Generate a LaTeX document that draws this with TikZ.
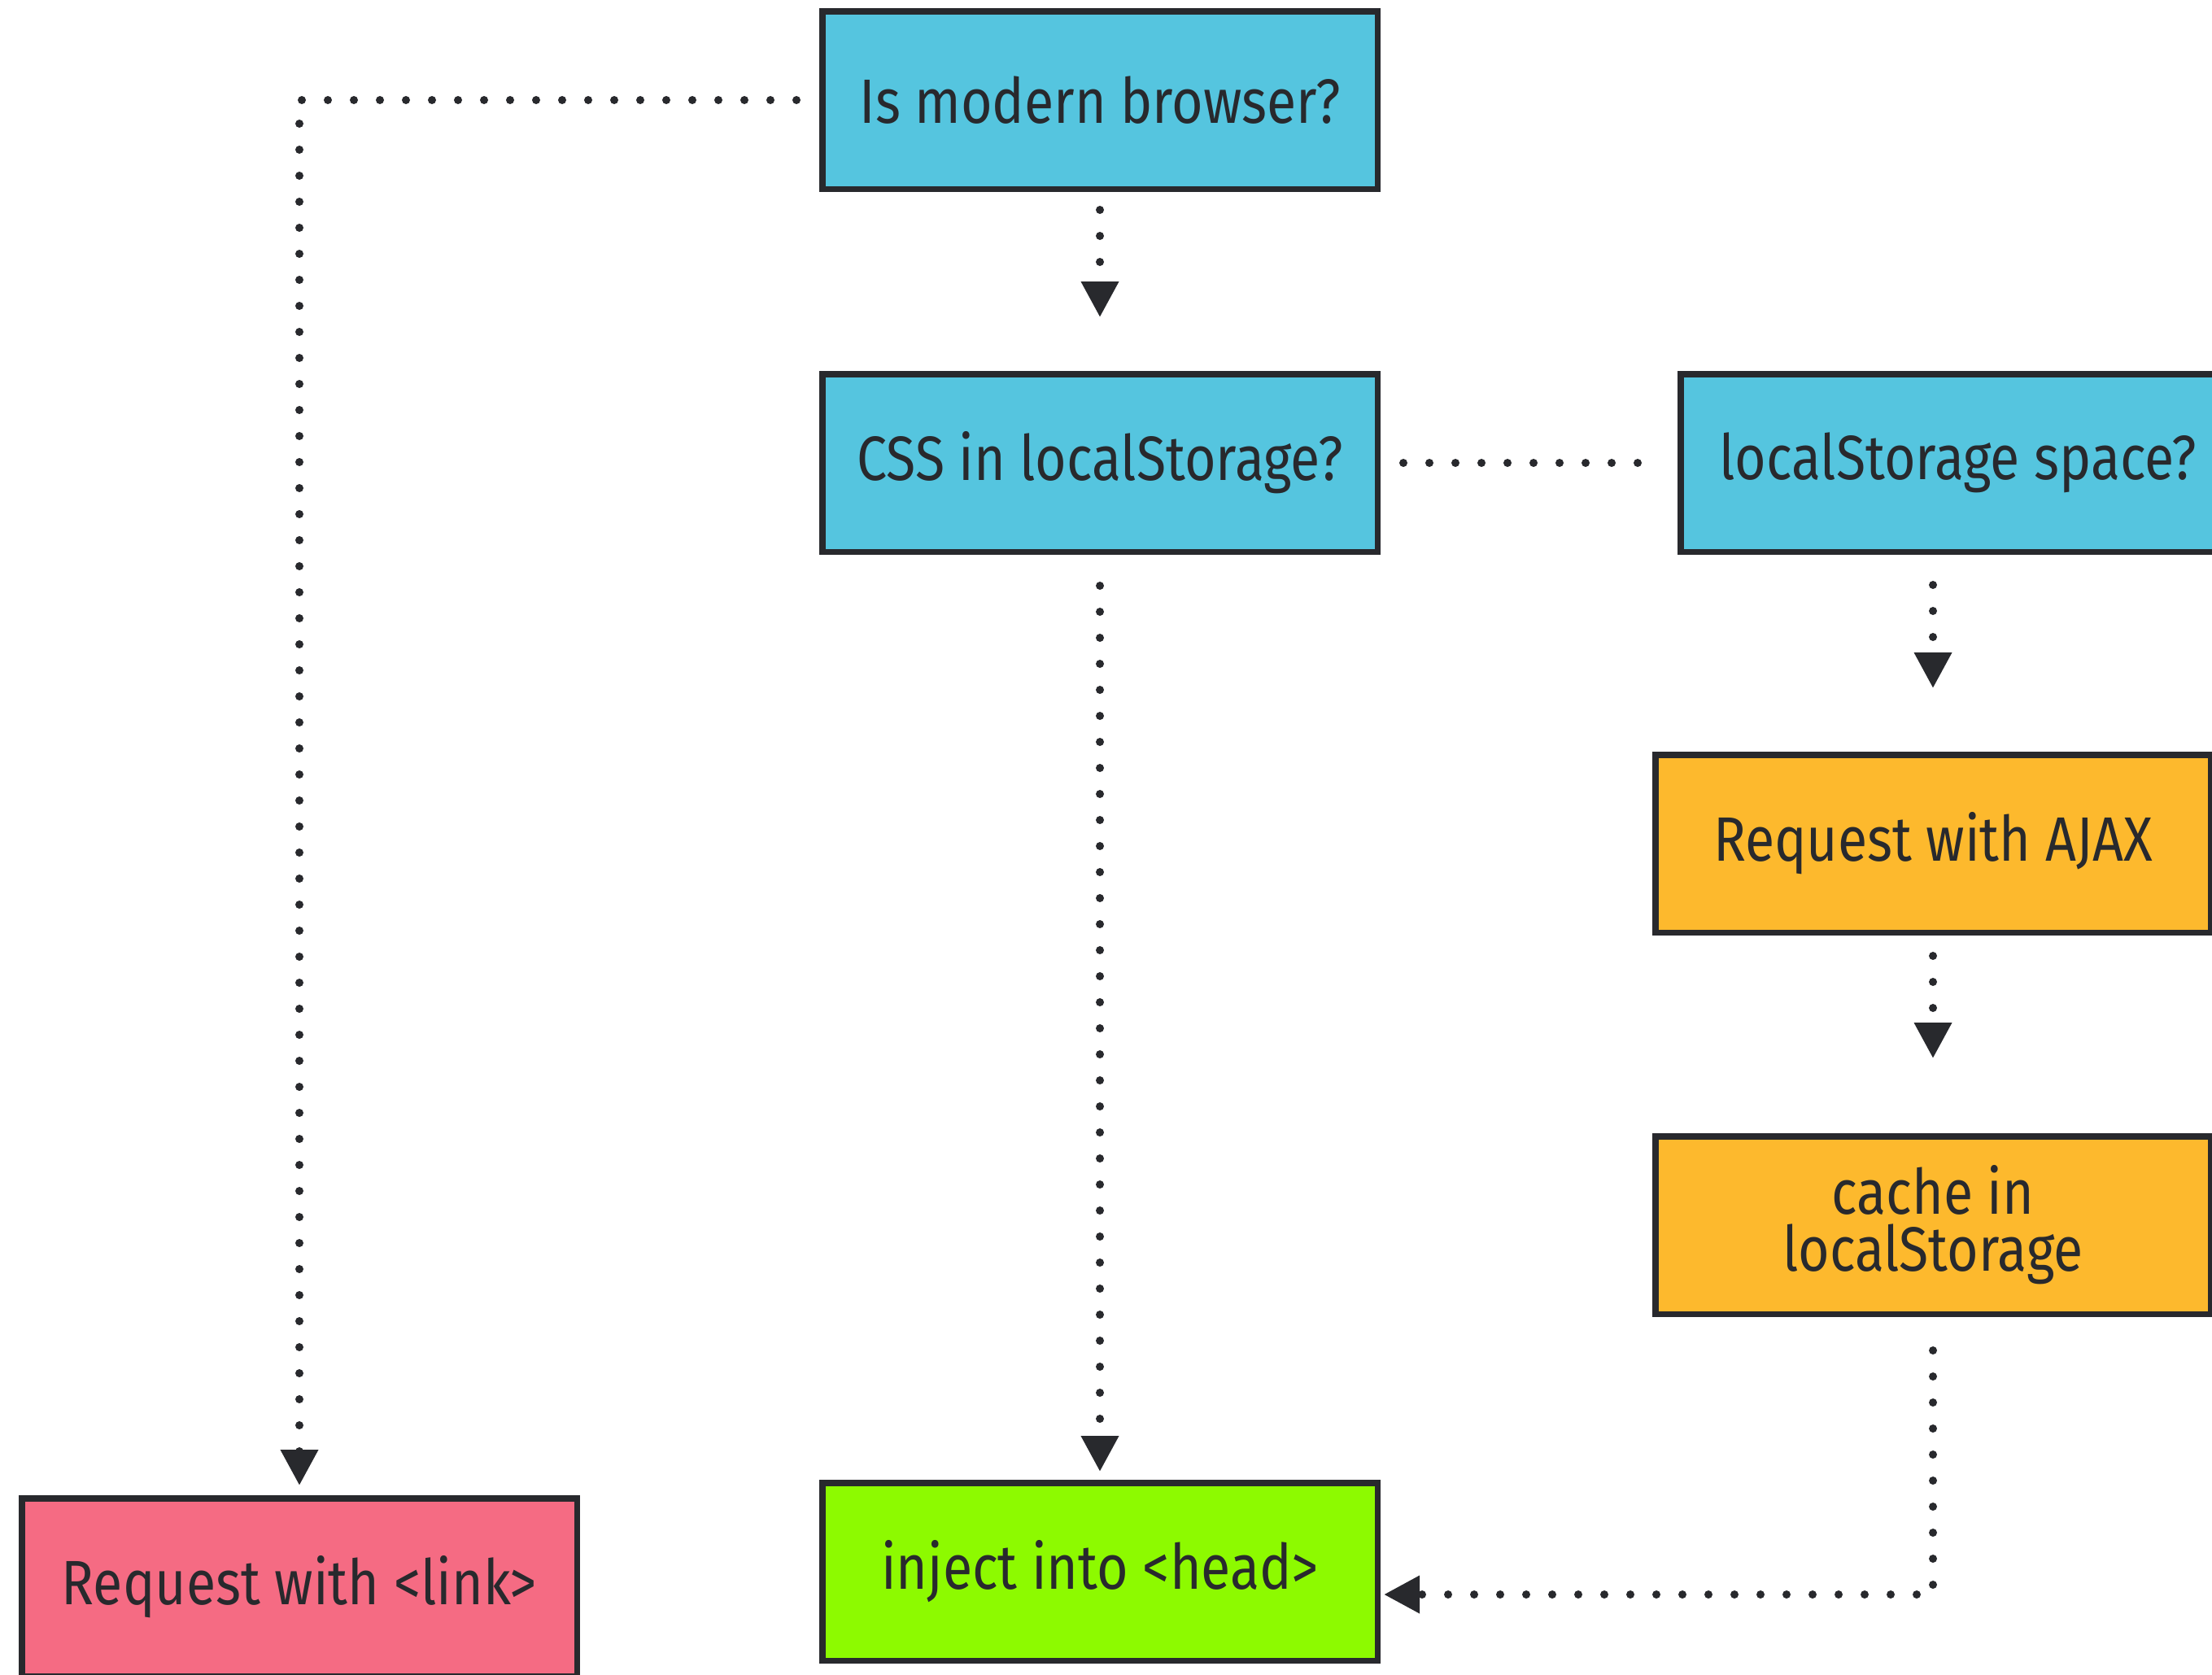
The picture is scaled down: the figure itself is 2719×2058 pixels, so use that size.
\documentclass[tikz,border=0pt]{standalone}
\usepackage{fontspec}
\setmainfont{Fira Sans}[FakeStretch=0.86]
\usetikzlibrary{arrows.meta,positioning}
\definecolor{ink}{RGB}{40,41,45}
\definecolor{cyanbox}{RGB}{85,197,223}
\definecolor{orangebox}{RGB}{253,185,45}
\definecolor{greenbox}{RGB}{141,250,0}
\definecolor{pinkbox}{RGB}{245,107,131}
\tikzset{
  flowbox/.style={draw=ink, line width=3.75pt, outer sep=1.875pt,
    minimum width=341.25pt, minimum height=109.25pt, inner sep=0pt,
    text=ink, align=center, font=\fontsize{38.5}{35}\selectfont},
  dotline/.style={draw=ink, line width=5pt, line cap=round,
    dash pattern=on 0pt off 16pt},
  tipped/.style={dotline, -{Triangle[length=22pt,width=22pt]}}
}
\begin{document}
\begin{tikzpicture}[x=0.5pt,y=-0.5pt]
\useasboundingbox (0,0) rectangle (2719,2058);
\clip (0,0) rectangle (2719,2058);
\node[flowbox, fill=cyanbox]   (A) at (1352,123)  {Is modern browser?};
\node[flowbox, fill=cyanbox]   (B) at (1352,569)  {CSS in localStorage?};
\node[flowbox, fill=cyanbox]   (C) at (2407,569)  {localStorage space?};
\node[flowbox, fill=orangebox] (D) at (2376,1037) {Request with AJAX};
\node[flowbox, fill=orangebox] (E) at (2376,1506) {cache in\\localStorage};
\node[flowbox, fill=pinkbox]   (F) at (368,1951)  {Request with <link>};
\node[flowbox, fill=greenbox]  (G) at (1352,1932) {inject into <head>};
\coordinate (Gin) at ([yshift=-14pt]G.east);
\draw[tipped, shorten <=14pt, shorten >=6pt] (A.west) -- (A.west -| F.north) -- (F.north);
\draw[tipped, shorten <=11pt, shorten >=33pt] (A.south) -- (B.north);
\draw[dotline, shorten <=14pt, shorten >=23pt] (B.east) -- (C.west);
\draw[tipped, shorten <=19pt, shorten >=5pt] (B.south) -- (G.north);
\draw[tipped, shorten <=18.5pt, shorten >=39pt] (D.north |- C.south) -- (D.north);
\draw[tipped, shorten <=12.5pt, shorten >=46pt] (D.south) -- (E.north);
\draw[tipped, shorten <=20.5pt, shorten >=2pt] (E.south) -- (E.south |- Gin) -- (Gin);
\end{tikzpicture}
\end{document}
